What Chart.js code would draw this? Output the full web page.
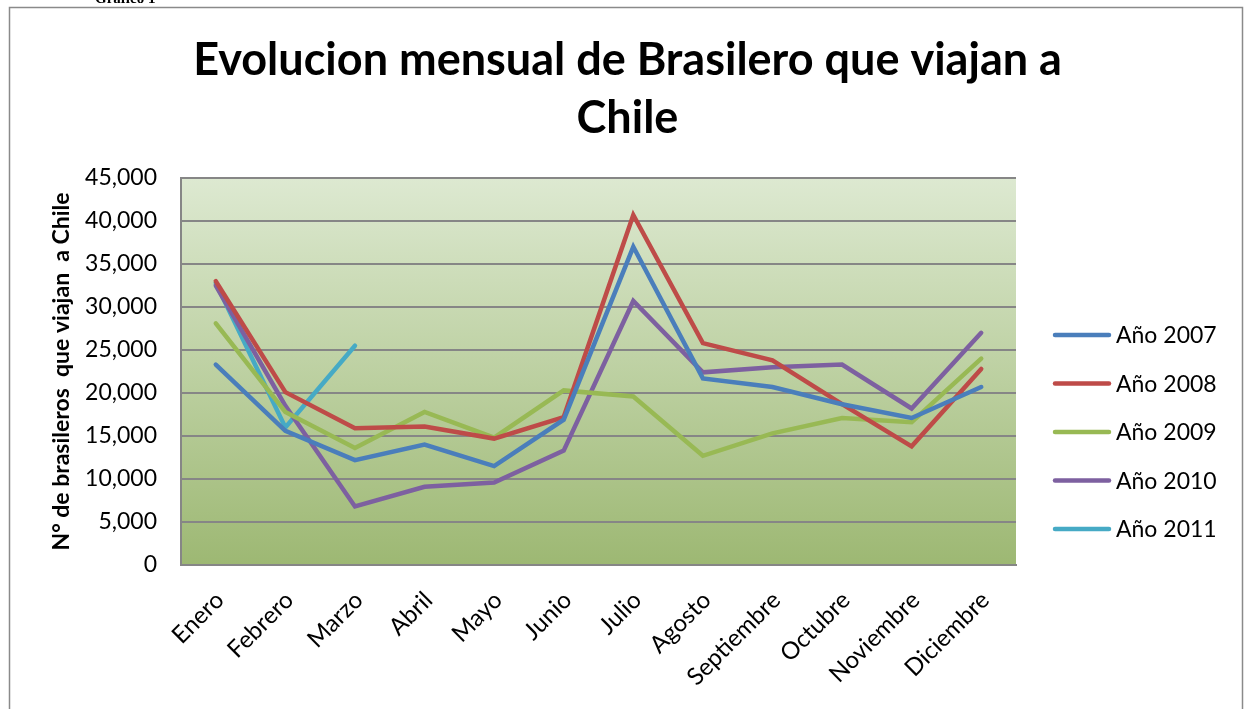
<!DOCTYPE html>
<html>
<head>
<meta charset="utf-8">
<script src="https://cdn.jsdelivr.net/npm/chart.js@4.4.1/dist/chart.umd.min.js"></script>
<style>
  html, body { margin: 0; padding: 0; background: #ffffff; }
  #wrap { width: 1245px; height: 709px; position: relative; }
</style>
</head>
<body>
<div id="wrap"><canvas id="c" width="1245" height="709"></canvas></div>
<script>
const categories = ['Enero','Febrero','Marzo','Abril','Mayo','Junio','Julio','Agosto','Septiembre','Octubre','Noviembre','Diciembre'];
const seriesNames = ['Año 2007','Año 2008','Año 2009','Año 2010','Año 2011'];
const y2007 = [23300,15600,12200,14000,11500,16900,37000,21700,20700,18700,17100,20700];
const y2008 = [33000,20100,15900,16100,14700,17200,40700,25800,23800,18700,13800,22800];
const y2009 = [28100,17800,13600,17800,14800,20300,19600,12700,15300,17100,16600,24000];
const y2010 = [32500,18500,6800,9100,9600,13300,30700,22400,23000,23300,18200,27000];
const y2011 = [32800,16000,25500];
const yTicks = [0,5000,10000,15000,20000,25000,30000,35000,40000,45000];
const titleLines = ['Evolucion mensual de Brasilero que viajan a', 'Chile'];
const yTitle = 'N° de brasileros  que viajan  a Chile';
const colors = ['#4a7ebb','#be4b48','#98b954','#7d60a0','#46aac5'];
const seriesValues = [y2007, y2008, y2009, y2010, y2011];

const FONT = 'Lato, "Open Sans", sans-serif';

const bgPlugin = {
  id: 'bg',
  beforeDraw(chart) {
    const ctx = chart.ctx;
    const a = chart.chartArea;
    ctx.save();
    ctx.strokeStyle = '#8a8a8a';
    ctx.lineWidth = 1.5;
    ctx.strokeRect(9.5, 7.5, 1233, 720);
    ctx.fillStyle = '#000';
    ctx.font = 'bold 15px "Liberation Serif", serif';
    ctx.textBaseline = 'alphabetic';
    ctx.fillText('Gráfico 1', 95, 3);
    const g = ctx.createLinearGradient(0, a.top, 0, a.bottom);
    g.addColorStop(0, '#dde9d1');
    g.addColorStop(1, '#9db873');
    ctx.fillStyle = g;
    ctx.fillRect(a.left, a.top, a.right - a.left, a.bottom - a.top);
    ctx.restore();
  }
};

const legendPlugin = {
  id: 'manualLegend',
  afterDraw(chart) {
    const ctx = chart.ctx;
    ctx.save();
    ctx.font = '23px ' + FONT;
    ctx.textBaseline = 'middle';
    ctx.textAlign = 'left';
    chart.data.datasets.forEach((ds, i) => {
      const y = 335 + i * 48.5;
      ctx.strokeStyle = ds.borderColor;
      ctx.lineWidth = 4.5;
      ctx.lineCap = 'round';
      ctx.beginPath();
      ctx.moveTo(1055, y);
      ctx.lineTo(1109, y);
      ctx.stroke();
      ctx.fillStyle = '#000';
      ctx.fillText(ds.label, 1116, y + 1);
    });
    ctx.restore();
  }
};

const datasets = seriesNames.map((name, i) => ({
  label: name,
  data: seriesValues[i],
  borderColor: colors[i],
  backgroundColor: colors[i],
  borderWidth: 4.5,
  pointRadius: 0,
  pointHoverRadius: 0,
  tension: 0,
  fill: false,
  borderCapStyle: 'round',
  borderJoinStyle: 'miter'
}));

new Chart(document.getElementById('c'), {
  type: 'line',
  data: { labels: categories, datasets: datasets },
  options: {
    responsive: false,
    animation: false,
    devicePixelRatio: 1,
    layout: { padding: { top: 8, left: 10, right: 0, bottom: 0 } },
    plugins: {
      legend: { display: false },
      tooltip: { enabled: false },
      title: {
        display: true,
        text: titleLines,
        color: '#000',
        font: { family: FONT, size: 45, weight: 'bold', lineHeight: 1.3 },
        padding: { top: 23, bottom: 30 }
      }
    },
    scales: {
      x: {
        offset: true,
        grid: { display: false, drawTicks: false },
        border: { display: true, color: '#868686', width: 2 },
        ticks: {
          color: '#000',
          font: { family: FONT, size: 24 },
          maxRotation: 45,
          minRotation: 45,
          padding: 21,
          labelOffset: 4,
          autoSkip: false
        },
        afterFit(scale) { scale.height = 144; }
      },
      y: {
        min: 0,
        max: 45000,
        afterBuildTicks(scale) { scale.ticks = yTicks.map(v => ({ value: v })); },
        grid: { color: '#868686', lineWidth: 2, drawTicks: false },
        border: { display: true, color: '#868686', width: 2 },
        ticks: {
          color: '#000',
          font: { family: FONT, size: 23 },
          padding: 24,
          callback: (v) => Number(v).toLocaleString('en-US')
        },
        title: {
          display: true,
          text: yTitle,
          color: '#000',
          font: { family: FONT, size: 23, weight: 'bold', lineHeight: 1.2 },
          padding: { top: 38, bottom: 0 }
        },
        afterFit(scale) { scale.width = 171; }
      },
      legendSpace: {
        type: 'linear',
        position: 'right',
        display: true,
        grid: { display: false, drawTicks: false },
        border: { display: false },
        ticks: { display: false },
        afterFit(scale) { scale.width = 229; }
      }
    }
  },
  plugins: [bgPlugin, legendPlugin]
});
</script>
</body>
</html>
